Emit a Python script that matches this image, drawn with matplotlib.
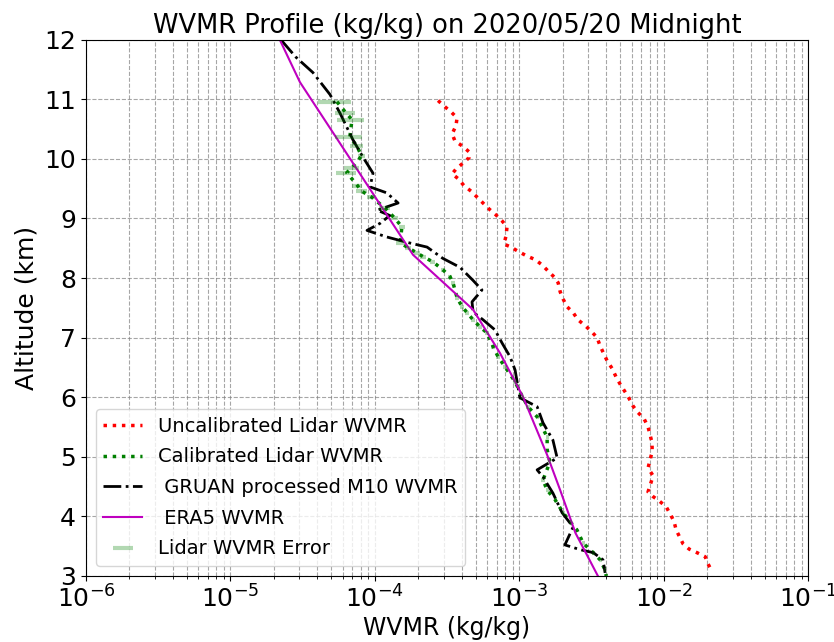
import matplotlib
matplotlib.use("Agg")
import matplotlib.pyplot as plt
import numpy as np

# Uncalibrated lidar WVMR (altitude km, kg/kg)
uncal_alt = [10.98, 10.89, 10.79, 10.69, 10.56, 10.42, 10.30, 10.22, 10.12, 10.02,
             9.93, 9.83, 9.75, 9.67, 9.55, 9.46, 9.36, 9.26, 9.16, 9.06,
             8.96, 8.86, 8.71, 8.57, 8.52, 8.44, 8.37, 8.31, 8.22, 8.12,
             8.02, 7.92, 7.77, 7.65, 7.52, 7.42, 7.30, 7.20, 7.11, 7.00,
             6.86, 6.61, 6.48, 6.34, 6.22, 6.01, 5.85, 5.74, 5.64, 5.50,
             5.37, 5.23, 5.08, 4.95, 4.81, 4.68, 4.41, 4.33, 4.26, 4.16,
             4.02, 3.91, 3.77, 3.54, 3.45, 3.39, 3.32, 3.20, 3.07]
uncal_wvmr = [2.74e-4, 3.01e-4, 3.37e-4, 3.71e-4, 3.65e-4, 3.43e-4, 3.59e-4, 4.02e-4, 4.49e-4, 4.49e-4,
              4.08e-4, 3.65e-4, 3.43e-4, 3.77e-4, 4.15e-4, 4.63e-4, 5.10e-4, 5.61e-4, 6.18e-4, 6.90e-4,
              7.60e-4, 8.23e-4, 8.10e-4, 7.85e-4, 8.77e-4, 9.97e-4, 1.13e-3, 1.29e-3, 1.44e-3, 1.58e-3,
              1.74e-3, 1.86e-3, 1.92e-3, 2.01e-3, 2.14e-3, 2.36e-3, 2.55e-3, 2.86e-3, 3.14e-3, 3.46e-3,
              3.63e-3, 4.06e-3, 4.40e-3, 4.68e-3, 4.99e-3, 5.67e-3, 6.14e-3, 6.65e-3, 7.31e-3, 7.79e-3,
              8.05e-3, 8.31e-3, 8.31e-3, 8.05e-3, 7.79e-3, 8.45e-3, 7.79e-3, 8.45e-3, 9.29e-3, 1.04e-2,
              1.12e-2, 1.18e-2, 1.22e-2, 1.36e-2, 1.50e-2, 1.70e-2, 1.94e-2, 2.03e-2, 2.16e-2]

# Calibrated lidar WVMR and its error
cal_alt = [10.96, 10.77, 10.66, 10.37, 10.22, 10.05, 9.85, 9.77, 9.55, 9.46,
           9.36, 9.18, 9.01, 8.86, 8.59, 8.51, 8.42, 8.36, 8.27, 8.14,
           8.02, 7.92, 7.67, 7.52, 7.42, 7.30, 7.18, 7.08, 6.85, 6.68,
           6.51, 6.26, 6.01, 5.84, 5.67, 5.33, 5.12, 4.91, 4.61, 4.44,
           4.28, 4.06, 3.91, 3.77, 3.55, 3.39, 3.27, 3.10, 3.00]
cal_wvmr = [5.47e-5, 6.33e-5, 6.95e-5, 6.72e-5, 7.50e-5, 8.10e-5, 6.95e-5, 6.40e-5, 7.60e-5, 8.10e-5,
            9.50e-5, 1.17e-4, 1.37e-4, 1.54e-4, 1.50e-4, 1.70e-4, 1.96e-4, 2.16e-4, 2.53e-4, 2.96e-4,
            3.32e-4, 3.48e-4, 3.71e-4, 4.02e-4, 4.35e-4, 4.79e-4, 5.35e-4, 5.98e-4, 6.59e-4, 7.13e-4,
            7.97e-4, 9.35e-4, 1.05e-3, 1.15e-3, 1.33e-3, 1.56e-3, 1.56e-3, 1.63e-3, 1.46e-3, 1.56e-3,
            1.77e-3, 2.01e-3, 2.25e-3, 2.51e-3, 2.77e-3, 3.25e-3, 3.63e-3, 3.93e-3, 4.00e-3]
cal_err = [1.4e-5, 1.0e-5, 1.5e-5, 1.4e-5, 8.0e-6, 5.0e-6, 8.0e-6, 1.0e-5, 6.0e-6, 7.0e-6,
           6.0e-6, 1.0e-5, 8.0e-6, 7.0e-6, 1.0e-5, 8.0e-6, 8.0e-6, 9.0e-6, 1.0e-5, 1.0e-5,
           1.2e-5, 1.2e-5, 1.2e-5, 1.3e-5, 1.4e-5, 1.5e-5, 1.6e-5, 1.7e-5, 1.8e-5, 2.0e-5,
           2.2e-5, 2.5e-5, 2.8e-5, 3.0e-5, 3.3e-5, 3.8e-5, 3.8e-5, 4.0e-5, 3.6e-5, 3.8e-5,
           4.2e-5, 4.8e-5, 5.3e-5, 5.8e-5, 6.4e-5, 7.4e-5, 8.2e-5, 8.8e-5, 9.0e-5]

# GRUAN processed M10 radiosonde
gruan_alt = [12.0, 11.71, 11.45, 11.08, 10.77, 10.32, 10.03, 9.76, 9.53, 9.43,
             9.26, 9.14, 9.05, 8.92, 8.80, 8.69, 8.60, 8.52, 8.33, 8.18,
             7.96, 7.80, 7.60, 7.43, 7.30, 7.13, 6.91, 6.68, 6.46, 5.99,
             5.84, 5.57, 5.28, 4.98, 4.78, 4.66, 4.39, 4.06, 3.82, 3.52,
             3.44, 3.39, 3.27, 3.05]
gruan_wvmr = [2.24e-5, 2.84e-5, 3.73e-5, 4.90e-5, 5.74e-5, 7.06e-5, 8.28e-5, 9.72e-5, 9.27e-5, 1.21e-4,
              1.45e-4, 1.04e-4, 1.27e-4, 1.09e-4, 8.83e-5, 1.21e-4, 1.67e-4, 2.30e-4, 2.96e-4, 3.89e-4,
              4.79e-4, 5.52e-4, 4.71e-4, 4.79e-4, 5.61e-4, 6.79e-4, 7.60e-4, 8.63e-4, 9.35e-4, 1.01e-3,
              1.33e-3, 1.46e-3, 1.71e-3, 1.83e-3, 1.33e-3, 1.46e-3, 1.71e-3, 1.98e-3, 2.36e-3, 2.07e-3,
              2.64e-3, 3.25e-3, 3.80e-3, 3.93e-3]

# ERA5 reanalysis
era5_alt = [12.0, 11.29, 8.39, 7.47, 6.74, 6.01, 5.03, 4.44, 3.72, 3.0]
era5_wvmr = [2.20e-5, 3.03e-5, 1.84e-4, 4.79e-4, 7.36e-4, 1.06e-3, 1.56e-3, 1.92e-3, 2.45e-3, 3.50e-3]

fig = plt.figure(figsize=(8.34, 6.42), dpi=100)
ax = fig.add_axes([0.103, 0.103, 0.866, 0.835])

ax.plot(uncal_wvmr, uncal_alt, ':', color='red', lw=2.5, label='Uncalibrated Lidar WVMR')
ax.plot(cal_wvmr, cal_alt, ':', color='green', lw=2.5, label='Calibrated Lidar WVMR')
ax.plot(gruan_wvmr, gruan_alt, '-.', color='black', lw=2, label=' GRUAN processed M10 WVMR')
ax.plot(era5_wvmr, era5_alt, '-', color='m', lw=1.5, label=' ERA5 WVMR')
ax.errorbar(cal_wvmr, cal_alt, xerr=cal_err, fmt='none', ecolor='green', alpha=0.3,
            elinewidth=3, label='Lidar WVMR Error')

ax.set_xscale('log')
ax.set_xlim(1e-6, 1e-1)
ax.set_ylim(3, 12)
ax.set_yticks(np.arange(3, 13, 1))
ax.grid(True, which='both', axis='x', linestyle='--', color='gray', alpha=0.7)
ax.grid(True, which='major', axis='y', linestyle='--', color='gray', alpha=0.7)

ax.tick_params(labelsize=18)
ax.set_xlabel('WVMR (kg/kg)', fontsize=17, labelpad=2)
ax.set_ylabel('Altitude (km)', fontsize=18, labelpad=4)
ax.set_title('WVMR Profile (kg/kg) on 2020/05/20 Midnight', fontsize=18.5, pad=5)
ax.legend(loc='lower left', fontsize=14, labelspacing=0.6)

fig.savefig('out.png', dpi=100)
